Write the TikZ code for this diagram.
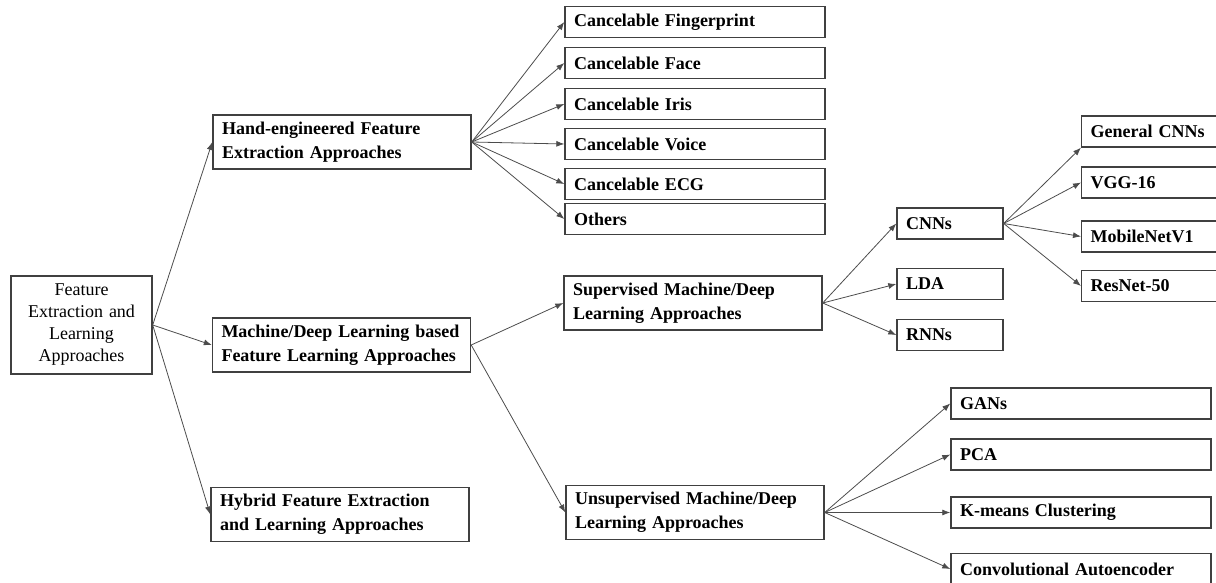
\documentclass[tikz,border=0pt]{standalone}
\usepackage{fontspec}
\setmainfont{Liberation Serif}
\usetikzlibrary{arrows.meta}
\begin{document}
\begin{tikzpicture}[
		x=0.5pt, y=-0.5pt,
		every node/.style={draw=black!75, line width=0.7pt, font=\fontsize{9}{12}\selectfont\bfseries, inner xsep=4.5pt, inner ysep=0pt},
		rootbox/.style={minimum height=49pt, text width=61.5pt, align=center, font=\fontsize{9}{11}\selectfont},
		bigbox/.style={minimum height=27pt, text width=120pt, align=left},
		leafbox/.style={minimum height=15.5pt, text width=121pt, align=left},
		smallbox/.style={minimum height=15.5pt, text width=44pt, align=left},
		netbox/.style={minimum height=15.5pt, text width=61pt, align=left, anchor=west},
		link/.style={draw=black!70, line width=0.4pt, -{Latex[length=4pt,width=3pt]}}
		]
		\useasboundingbox (0,0) rectangle (1216,583);
		% first level
		\node[rootbox] (root) at (81.5,325) {Feature\\Extraction and\\Learning\\Approaches};
		\node[bigbox] (hand) at (342,142) {Hand-engineered Feature\\Extraction Approaches};
		\node[bigbox] (mdl) at (341.5,345) {Machine/Deep Learning based\\Feature Learning Approaches};
		\node[bigbox] (hybrid) at (340,514.5) {Hybrid Feature Extraction\\and Learning Approaches};
		\foreach \n in {hand,mdl,hybrid}
			\draw[link] (root.east) -- (\n.west);
		% hand-engineered
		\foreach \n/\y/\t in {fing/22/Cancelable Fingerprint, face/63/Cancelable Face, iris/104/Cancelable Iris,
				voice/144/Cancelable Voice, ecg/184/Cancelable ECG, others/219/Others}
		{
			\node[leafbox] (\n) at (695,\y) {\t};
			\draw[link] (hand.east) -- (\n.west);
		}
		% machine/deep learning
		\node[bigbox] (sup) at (693,303) {Supervised Machine/Deep\\Learning Approaches};
		\node[bigbox] (unsup) at (695,512.5) {Unsupervised Machine/Deep\\Learning Approaches};
		\draw[link] (mdl.east) -- (sup.west);
		\draw[link] (mdl.east) -- (unsup.west);
		\foreach \n/\y/\t in {cnns/223.5/CNNs, lda/284/LDA, rnns/335/RNNs}
		{
			\node[smallbox] (\n) at (950,\y) {\t};
			\draw[link] (sup.east) -- (\n.west);
		}
		\foreach \n/\y/\t in {general/131.5/General CNNs, vgg/182.5/VGG-16, mobile/236.5/MobileNetV1, resnet/286/ResNet-50}
			\node[netbox] (\n) at (1081,\y) {\t};
		\draw[link] (cnns.east) -- (general.south west);
		\foreach \n in {vgg,mobile,resnet}
			\draw[link] (cnns.east) -- (\n.west);
		\foreach \n/\y/\t in {gans/403.5/GANs, pca/454.5/PCA, kmeans/512.5/K-means Clustering, conv/569/Convolutional Autoencoder}
		{
			\node[leafbox] (\n) at (1081,\y) {\t};
			\draw[link] (unsup.east) -- (\n.west);
		}
	\end{tikzpicture}
\end{document}
